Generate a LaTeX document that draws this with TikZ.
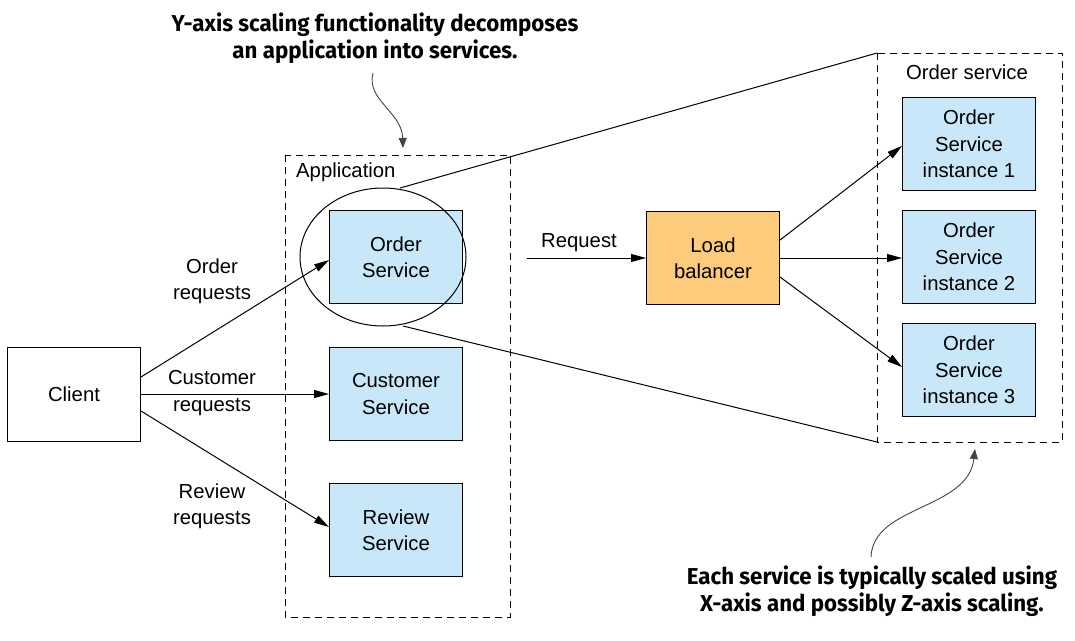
\documentclass[tikz,border=0pt]{standalone}
\usepackage{fontspec}
\setmainfont{Liberation Sans}
\newfontfamily\annotfont[FakeStretch=0.97]{Fira Sans}
\usetikzlibrary{arrows.meta,shapes.geometric}
\definecolor{svcblue}{HTML}{C8E8FA}
\definecolor{lborange}{HTML}{FCCB7C}
\definecolor{curlgray}{HTML}{444444}
\tikzset{
  x=1pt,y=-1pt,
  every node/.style={font=\fontsize{20.3}{26.5}\selectfont},
  svcbox/.style={draw,line width=1pt,fill=svcblue,minimum width=133pt,minimum height=93pt,align=center,inner sep=0pt},
  lbbox/.style={svcbox,fill=lborange},
  clientbox/.style={draw,line width=1pt,fill=white,minimum width=133pt,minimum height=94pt,inner sep=0pt},
  group/.style={draw,dashed,dash pattern=on 7pt off 5pt,line width=1pt},
  conn/.style={line width=1pt,-{Triangle[length=15pt,width=8pt]}},
  zoomline/.style={line width=1pt},
  lbl/.style={align=center,inner sep=0pt},
  annot/.style={font=\annotfont\bfseries\fontsize{23}{27}\selectfont,align=center,inner sep=0pt},
  curl/.style={line width=0.9pt,curlgray,-{Triangle[length=10pt,width=8pt]}},
}
\begin{document}
\begin{tikzpicture}
\useasboundingbox (0,0) rectangle (1075,640);
% groups
\draw[group] (285,155) rectangle (510,617);
\node[lbl,anchor=west] (applbl) at (296,172) {Application};
\draw[group] (877,53) rectangle (1062,442);
\node[lbl] (oslbl) at (967,72) {Order service};
% nodes
\node[clientbox] (client) at (74,394) {Client};
\node[svcbox] (order) at (396,257) {Order\\Service};
\node[svcbox] (customer) at (396,394) {Customer\\Service};
\node[svcbox] (review) at (396,530) {Review\\Service};
\node[lbbox] (lb) at (713,258) {Load\\balancer};
\node[svcbox] (i1) at (969,144) {Order\\Service\\instance 1};
\node[svcbox] (i2) at (969,257) {Order\\Service\\instance 2};
\node[svcbox] (i3) at (969,370) {Order\\Service\\instance 3};
% ellipse
\node[draw,ellipse,line width=1pt,minimum width=166pt,minimum height=138pt,inner sep=0pt] (ell) at (383,257) {};
% zoom lines
\coordinate (ztop) at (400,188);
\coordinate (zbot) at (403,326);
\coordinate (gtl) at (877,53);
\coordinate (gbl) at (877,442);
\draw[zoomline] (ztop) -- (gtl);
\draw[zoomline] (zbot) -- (gbl);
% client connectors
\coordinate (c1) at (141,377);
\coordinate (c2) at (141,394);
\coordinate (c3) at (141,411);
\draw[conn] (c1) -- (order.west |- 0,260);
\draw[conn] (c2) -- (customer.west);
\draw[conn] (c3) -- (review.west |- 0,527);
\node[lbl] (ordreq) at (212,281) {Order\\requests};
\node[lbl] (custreq) at (212,393) {Customer\\requests};
\node[lbl] (revreq) at (212,506) {Review\\requests};
% request
\coordinate (reqstart) at (527,258);
\draw[conn] (reqstart) -- (lb.west);
\node[lbl] (reqlbl) at (579,243) {Request};
% lb to instances
\draw[conn] (lb.east |- 0,240) -- (i1.west |- 0,146);
\draw[conn] (lb.east |- 0,258) -- (i2.west |- 0,258);
\draw[conn] (lb.east |- 0,277) -- (i3.west |- 0,367);
% annotations
\node[annot] (topnote) at (375,38) {Y-axis scaling functionality decomposes\\an application into services.};
\node[annot] (botnote) at (872,591) {Each service is typically scaled using\\X-axis and possibly Z-axis scaling.};
\coordinate (t1) at (373,73);
\coordinate (t2) at (403,148);
\draw[curl] (t1) .. controls (366,100) and (402,112) .. (t2);
\coordinate (b1) at (871,557);
\coordinate (b2) at (975,449);
\draw[curl] (b1) .. controls (873,505) and (968,510) .. (b2);
\end{tikzpicture}
\end{document}
